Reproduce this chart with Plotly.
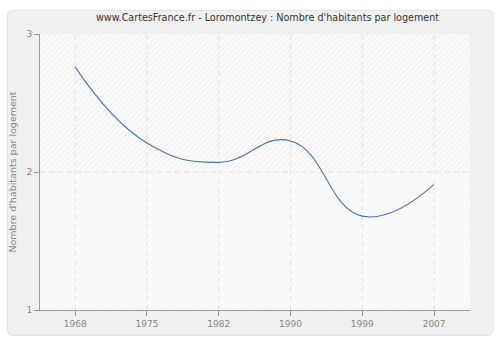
import plotly.graph_objects as go

years = ["1968", "1975", "1982", "1990", "1999", "2007"]
values = [2.76, 2.21, 2.07, 2.225, 1.68, 1.91]
y_ticks = [1, 2, 3]
title = "www.CartesFrance.fr - Loromontzey : Nombre d'habitants par logement"
y_title = "Nombre d'habitants par logement"

idx = list(range(len(years)))
XMIN, XMAX = -0.49, len(years) - 0.5
YMIN, YMAX = 1, 3
GRID = "#e2e2e2"

fig = go.Figure()
# background bands
fig.add_trace(go.Scatter(x=[XMIN, XMAX, XMAX, XMIN, XMIN], y=[2, 2, 3, 3, 2], mode="lines",
                         line=dict(width=0), fill="toself", fillcolor="#fafafa",
                         fillpattern=dict(shape="/", fgcolor="#e3e3e3", bgcolor="#fafafa", size=4, solidity=0.3),
                         hoverinfo="skip", showlegend=False))
fig.add_trace(go.Scatter(x=[XMIN, XMAX, XMAX, XMIN, XMIN], y=[1, 1, 2, 2, 1], mode="lines",
                         line=dict(width=0), fill="toself", fillcolor="#fafafa",
                         fillpattern=dict(shape="/", fgcolor="#eeeeee", bgcolor="#fafafa", size=4, solidity=0.3),
                         hoverinfo="skip", showlegend=False))
# gridlines drawn above the bands
for xv in idx:
    fig.add_trace(go.Scatter(x=[xv, xv], y=[YMIN, YMAX], mode="lines",
                             line=dict(color=GRID, width=1, dash="5px,4px"),
                             hoverinfo="skip", showlegend=False))
for yv in y_ticks[1:-1]:
    fig.add_trace(go.Scatter(x=[XMIN, XMAX], y=[yv, yv], mode="lines",
                             line=dict(color=GRID, width=1, dash="5px,4px"),
                             hoverinfo="skip", showlegend=False))
fig.add_trace(go.Scatter(x=idx, y=values, mode="lines",
                         line=dict(color="#4a74a8", width=1.1, shape="spline", smoothing=1.3),
                         showlegend=False))

fig.update_layout(
    width=500, height=340,
    margin=dict(l=40, r=30, t=34, b=30, autoexpand=False),
    paper_bgcolor="white",
    plot_bgcolor="#fafafa",
    font=dict(family="DejaVu Sans", size=9, color="#888"),
    title=dict(text=title, xref="container", x=0.535, xanchor="center",
               yref="container", y=0.947, yanchor="middle",
               font=dict(family="DejaVu Sans", size=9.6, color="#333")),
    shapes=[dict(type="path", xref="paper", yref="paper", layer="below",
                 path="M -0.064,1.085 L 1.042,1.085 Q 1.054,1.085 1.054,1.065 L 1.054,-0.07 Q 1.054,-0.092 1.042,-0.092 L -0.064,-0.092 Q -0.076,-0.092 -0.076,-0.07 L -0.076,1.065 Q -0.076,1.085 -0.064,1.085 Z",
                 fillcolor="#f0f0f0", line=dict(color="#e2e2e2", width=1))],
    xaxis=dict(range=[XMIN, XMAX], tickvals=idx, ticktext=years, ticks="outside", ticklen=5, tickcolor="#999",
               showline=True, linecolor="#999", linewidth=1, showgrid=False,
               zeroline=False, automargin=False, tickfont=dict(size=9, color="#888")),
    yaxis=dict(range=[YMIN, YMAX], tickvals=y_ticks, ticks="outside", ticklen=5, tickcolor="#999",
               showline=True, linecolor="#999", linewidth=1, showgrid=False,
               zeroline=False, automargin=False, tickfont=dict(size=9, color="#888"),
               title=dict(text=y_title, font=dict(size=9.5, color="#888"), standoff=8)),
)
fig.write_html("out.html")
